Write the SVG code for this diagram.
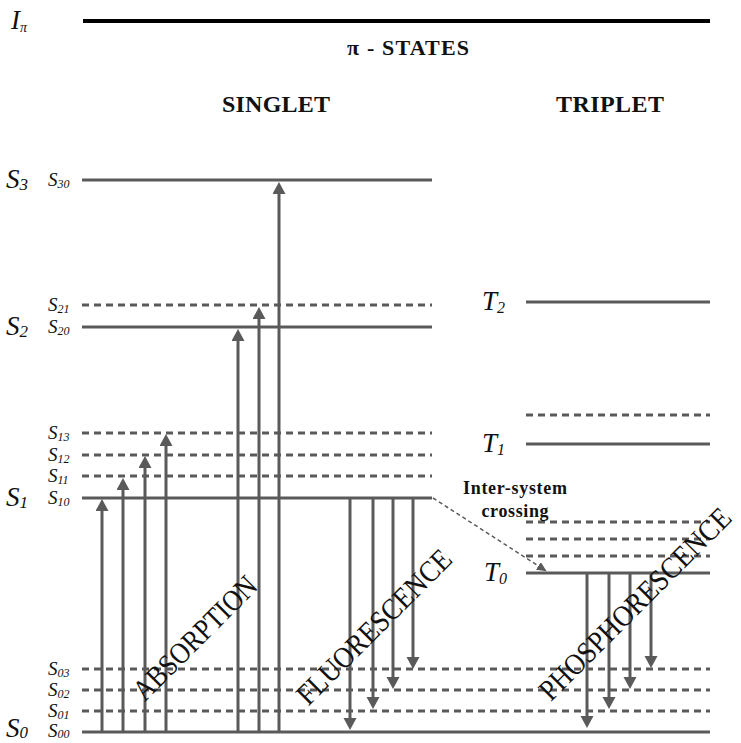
<svg xmlns="http://www.w3.org/2000/svg" width="741" height="743" viewBox="0 0 741 743">
<style>
.lv{stroke:#5a5a5a;stroke-width:3;fill:none}
.ds{stroke:#5a5a5a;stroke-width:3;stroke-dasharray:7 5;fill:none}
.ar{stroke:#5a5a5a;stroke-width:3;fill:none;marker-end:url(#ah)}
.isc{stroke:#5a5a5a;stroke-width:1.5;stroke-dasharray:4 3;fill:none;marker-end:url(#ahs)}
.big{font-family:"Liberation Serif",serif;font-style:italic;font-size:27px;fill:#111}
.sm{font-family:"Liberation Serif",serif;font-style:italic;font-size:19px;fill:#111}
.hd{font-family:"Liberation Serif",serif;font-weight:bold;fill:#111}
.rot{font-family:"Liberation Serif",serif;font-size:30px;fill:#111}
</style>
<defs>
<marker id="ah" markerUnits="userSpaceOnUse" markerWidth="14" markerHeight="14" refX="2" refY="6.5" orient="auto">
<path d="M0,0 L12,6.5 L0,13 z" fill="#5a5a5a"/>
</marker>
<marker id="ahs" markerUnits="userSpaceOnUse" markerWidth="12" markerHeight="12" refX="2" refY="4.5" orient="auto">
<path d="M0,0 L10,4.5 L0,9 z" fill="#5a5a5a"/>
</marker>
</defs>

<g id="header">
<line x1="83" y1="21" x2="710" y2="21" stroke="#000" stroke-width="4"/>
<text x="11" y="29" class="big" font-size="24">I<tspan dy="3" font-size="14">π</tspan></text>
<text x="408" y="55" class="hd" font-size="22" text-anchor="middle" textLength="122">π - STATES</text>
<text x="276" y="112" class="hd" font-size="24" text-anchor="middle" textLength="108">SINGLET</text>
<text x="610" y="112" class="hd" font-size="24" text-anchor="middle" textLength="108">TRIPLET</text>
</g>

<g id="singlet-levels">
<line class="lv" x1="82" y1="180" x2="432" y2="180"/>
<line class="ds" x1="82" y1="305" x2="432" y2="305"/>
<line class="lv" x1="82" y1="327" x2="432" y2="327"/>
<line class="ds" x1="82" y1="433" x2="432" y2="433"/>
<line class="ds" x1="82" y1="455" x2="432" y2="455"/>
<line class="ds" x1="82" y1="476" x2="432" y2="476"/>
<line class="lv" x1="82" y1="498" x2="432" y2="498"/>
<line class="ds" x1="82" y1="669" x2="710" y2="669"/>
<line class="ds" x1="82" y1="690" x2="710" y2="690"/>
<line class="ds" x1="82" y1="711" x2="710" y2="711"/>
<line class="lv" x1="82" y1="732" x2="710" y2="732"/>
</g>

<g id="triplet-levels">
<line class="lv" x1="526" y1="302" x2="710" y2="302"/>
<line class="ds" x1="526" y1="415" x2="710" y2="415"/>
<line class="lv" x1="526" y1="444" x2="710" y2="444"/>
<line class="ds" x1="526" y1="522" x2="710" y2="522"/>
<line class="ds" x1="526" y1="539" x2="710" y2="539"/>
<line class="ds" x1="526" y1="556" x2="710" y2="556"/>
<line class="lv" x1="526" y1="573" x2="710" y2="573"/>
</g>

<g id="labels">
<text class="big" x="6" y="188">S<tspan dy="2" font-size="17">3</tspan></text>
<text class="big" x="6" y="335">S<tspan dy="2" font-size="17">2</tspan></text>
<text class="big" x="6" y="506">S<tspan dy="2" font-size="17">1</tspan></text>
<text class="big" x="6" y="737">S<tspan dy="1" font-size="17">0</tspan></text>
<text class="sm" x="48" y="186">S<tspan dy="2" font-size="12">30</tspan></text>
<text class="sm" x="48" y="311">S<tspan dy="2" font-size="12">21</tspan></text>
<text class="sm" x="48" y="333">S<tspan dy="2" font-size="12">20</tspan></text>
<text class="sm" x="48" y="439">S<tspan dy="2" font-size="12">13</tspan></text>
<text class="sm" x="48" y="461">S<tspan dy="2" font-size="12">12</tspan></text>
<text class="sm" x="48" y="482">S<tspan dy="2" font-size="12">11</tspan></text>
<text class="sm" x="48" y="504">S<tspan dy="2" font-size="12">10</tspan></text>
<text class="sm" x="48" y="675">S<tspan dy="2" font-size="12">03</tspan></text>
<text class="sm" x="48" y="696">S<tspan dy="2" font-size="12">02</tspan></text>
<text class="sm" x="48" y="717">S<tspan dy="2" font-size="12">01</tspan></text>
<text class="sm" x="48" y="737">S<tspan dy="1" font-size="12">00</tspan></text>
<text class="big" x="482" y="310" font-size="24">T<tspan dy="3" font-size="16">2</tspan></text>
<text class="big" x="482" y="452" font-size="24">T<tspan dy="3" font-size="16">1</tspan></text>
<text class="big" x="484" y="581" font-size="24">T<tspan dy="3" font-size="16">0</tspan></text>
</g>

<g id="connectors">
<line class="ar" x1="102" y1="732" x2="102" y2="509"/>
<line class="ar" x1="123" y1="732" x2="123" y2="488"/>
<line class="ar" x1="145" y1="732" x2="145" y2="466"/>
<line class="ar" x1="166" y1="732" x2="166" y2="444"/>
<line class="ar" x1="238" y1="732" x2="238" y2="339"/>
<line class="ar" x1="259" y1="732" x2="259" y2="317"/>
<line class="ar" x1="279" y1="732" x2="279" y2="192"/>
<line class="ar" x1="350" y1="498" x2="350" y2="720"/>
<line class="ar" x1="373" y1="498" x2="373" y2="699"/>
<line class="ar" x1="393" y1="498" x2="393" y2="679"/>
<line class="ar" x1="413" y1="498" x2="413" y2="659"/>
<line class="ar" x1="587" y1="573" x2="587" y2="718"/>
<line class="ar" x1="609" y1="573" x2="609" y2="699"/>
<line class="ar" x1="630" y1="573" x2="630" y2="679"/>
<line class="ar" x1="651" y1="573" x2="651" y2="658"/>
<line class="isc" x1="433" y1="498" x2="540" y2="567"/>
</g>

<g id="process-labels">
<text class="rot" transform="translate(202,645) rotate(-45)" text-anchor="middle" textLength="162" lengthAdjust="spacingAndGlyphs">ABSORPTION</text>
<text class="rot" transform="translate(381,634) rotate(-45)" text-anchor="middle" textLength="206" lengthAdjust="spacingAndGlyphs">FLUORESCENCE</text>
<text class="rot" transform="translate(642,611) rotate(-45)" text-anchor="middle" textLength="258" lengthAdjust="spacingAndGlyphs">PHOSPHORESCENCE</text>
<text class="hd" x="515" y="494" font-size="18" text-anchor="middle" textLength="104">Inter-system</text>
<text class="hd" x="515" y="517" font-size="18" text-anchor="middle" textLength="67">crossing</text>
</g>
</svg>
